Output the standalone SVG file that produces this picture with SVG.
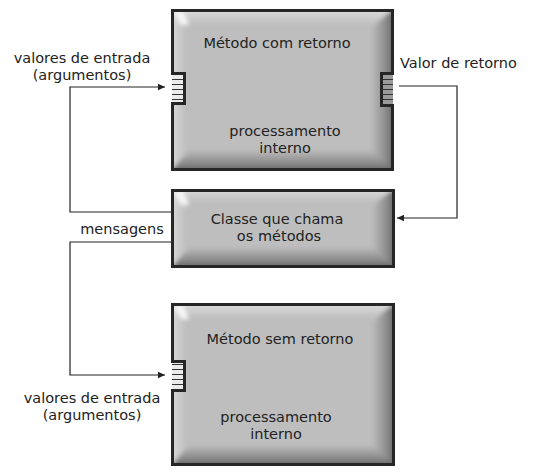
<svg xmlns="http://www.w3.org/2000/svg" width="533" height="473" viewBox="0 0 533 473">
<style>
  .face { fill: #bebebe; }
  .border { fill: none; stroke: #262626; stroke-width: 3; stroke-linejoin: miter; }
  .t { font-family: "DejaVu Sans", "Liberation Sans", sans-serif; font-size: 14.5px; fill: #222; }
  .c { text-anchor: middle; }
  .conn { fill: none; stroke: #222; stroke-width: 1.2; }
  .bt { fill: url(#gTop); }
  .bl { fill: url(#gLeft); }
  .br { fill: url(#gRight); }
  .bb { fill: url(#gBottom); }
  .hl { fill: #f6f6f6; }
  .pin { fill: url(#stripesLight); }
  .pout { fill: url(#stripesDark); }
  .soft { filter: url(#blur); }
</style>
<defs>
  <filter id="blur" x="-10%" y="-10%" width="120%" height="120%">
    <feGaussianBlur stdDeviation="2.2"/>
  </filter>
  <clipPath id="clipA"><rect x="172" y="10" width="221" height="160"/></clipPath>
  <clipPath id="clipB"><rect x="172" y="190" width="222" height="77"/></clipPath>
  <clipPath id="clipC"><rect x="172" y="304" width="222" height="161"/></clipPath>
  <linearGradient id="gTop" x1="0" y1="0" x2="0" y2="1">
    <stop offset="0" stop-color="#e6e6e6"/>
    <stop offset="1" stop-color="#bebebe"/>
  </linearGradient>
  <linearGradient id="gLeft" x1="0" y1="0" x2="1" y2="0">
    <stop offset="0" stop-color="#e0e0e0"/>
    <stop offset="1" stop-color="#bebebe"/>
  </linearGradient>
  <linearGradient id="gRight" x1="0" y1="0" x2="1" y2="0">
    <stop offset="0" stop-color="#bebebe"/>
    <stop offset="0.55" stop-color="#8c8c8c"/>
    <stop offset="1" stop-color="#4a4a4a"/>
  </linearGradient>
  <linearGradient id="gBottom" x1="0" y1="0" x2="0" y2="1">
    <stop offset="0" stop-color="#bebebe"/>
    <stop offset="0.55" stop-color="#888"/>
    <stop offset="1" stop-color="#484848"/>
  </linearGradient>
  <pattern id="stripesLight" x="0" y="0" width="20" height="5" patternUnits="userSpaceOnUse">
    <rect width="20" height="5" fill="#ececec"/>
    <rect y="4" width="20" height="1" fill="#333"/>
  </pattern>
  <pattern id="stripesDark" x="0" y="0" width="20" height="5" patternUnits="userSpaceOnUse">
    <rect width="20" height="5" fill="#9a9a9a"/>
    <rect y="4" width="20" height="1" fill="#333"/>
  </pattern>
  <marker id="arr" markerWidth="8" markerHeight="8" refX="7" refY="4" orient="auto" markerUnits="userSpaceOnUse">
    <path d="M0,0.8 L7,4 L0,7.2 Z" fill="#222"/>
  </marker>
</defs>

<g id="connectors">
  <path class="conn" d="M171,212 H70 V87 H165" marker-end="url(#arr)"/>
  <path class="conn" d="M171,242 H70 V375 H165" marker-end="url(#arr)"/>
  <path class="conn" d="M399,86 H457 V218 H397" marker-end="url(#arr)"/>
</g>

<g id="metodo-com-retorno">
  <g clip-path="url(#clipA)">
    <g class="soft">
      <rect class="face" x="165" y="3" width="235" height="174"/>
      <polygon class="bt" points="166.5,4.5 398.5,4.5 374.5,24.5 186.5,24.5"/>
      <polygon class="bl" points="166.5,4.5 186.5,24.5 186.5,151.5 166.5,175.5"/>
      <polygon class="br" points="398.5,4.5 398.5,175.5 370.5,151.5 370.5,28.5"/>
      <polygon class="bb" points="166.5,175.5 398.5,175.5 370.5,149.5 190.5,149.5"/>
      <polygon class="hl" points="173,11 183,11 189,25 181,25"/>
    </g>
  </g>
  <rect class="pin" x="172" y="75" width="12" height="28"/>
  <rect class="pout" x="382" y="75" width="11" height="30"/>
  <path class="border" d="M172.5,10.5 H392.5 V73.5 H381.5 V105.5 H392.5 V169.5 H172.5 V103.5 H184.5 V73.5 H172.5 Z"/>
  <text class="t c" x="277" y="48">Método com retorno</text>
  <text class="t c" x="285" y="136">processamento</text>
  <text class="t c" x="285" y="153">interno</text>
</g>

<g id="classe-que-chama">
  <g clip-path="url(#clipB)">
    <g class="soft">
      <rect class="face" x="165" y="183" width="236" height="91"/>
      <polygon class="bt" points="166.5,184.5 399.5,184.5 375.5,202.5 186.5,202.5"/>
      <polygon class="bl" points="166.5,184.5 186.5,202.5 186.5,250.5 166.5,272.5"/>
      <polygon class="br" points="399.5,184.5 399.5,272.5 371.5,246.5 371.5,206.5"/>
      <polygon class="bb" points="166.5,272.5 399.5,272.5 371.5,246.5 190.5,246.5"/>
      <polygon class="hl" points="173,191 183,191 189,205 181,205"/>
    </g>
  </g>
  <path class="border" d="M172.5,190.5 H393.5 V266.5 H172.5 Z"/>
  <text class="t c" x="277" y="224">Classe que chama</text>
  <text class="t c" x="279" y="241">os métodos</text>
</g>

<g id="metodo-sem-retorno">
  <g clip-path="url(#clipC)">
    <g class="soft">
      <rect class="face" x="165" y="297" width="236" height="175"/>
      <polygon class="bt" points="166.5,298.5 399.5,298.5 375.5,318.5 186.5,318.5"/>
      <polygon class="bl" points="166.5,298.5 186.5,318.5 186.5,446.5 166.5,470.5"/>
      <polygon class="br" points="399.5,298.5 399.5,470.5 371.5,444.5 371.5,322.5"/>
      <polygon class="bb" points="166.5,470.5 399.5,470.5 371.5,444.5 190.5,444.5"/>
      <polygon class="hl" points="173,305 183,305 189,319 181,319"/>
    </g>
  </g>
  <rect class="pin" x="172" y="363" width="12" height="27"/>
  <path class="border" d="M172.5,304.5 H393.5 V464.5 H172.5 V390.5 H184.5 V361.5 H172.5 Z"/>
  <text class="t c" x="280" y="344">Método sem retorno</text>
  <text class="t c" x="276" y="422">processamento</text>
  <text class="t c" x="276" y="439">interno</text>
</g>

<g id="labels">
  <text class="t c" x="82" y="63">valores de entrada</text>
  <text class="t c" x="82" y="80">(argumentos)</text>
  <text class="t" x="400" y="68">Valor de retorno</text>
  <text class="t c" x="122" y="234">mensagens</text>
  <text class="t c" x="92" y="403">valores de entrada</text>
  <text class="t c" x="92" y="420">(argumentos)</text>
</g>
</svg>
